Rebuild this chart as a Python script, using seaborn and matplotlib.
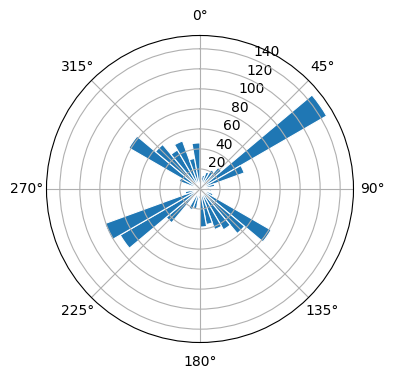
import numpy as np
import matplotlib
matplotlib.use("Agg")
import matplotlib.pyplot as plt
import seaborn as sns

# Wind-rose style data: bin centres (degrees, clockwise from north) and counts
direction_deg = [5, 15, 25, 35, 45, 55, 65, 75, 85,
                 95, 105, 115, 125, 135, 145, 155, 165, 175,
                 185, 195, 205, 215, 225, 235, 245, 255, 265,
                 275, 285, 295, 305, 315, 325, 335, 345, 355]
counts = [12, 14, 18, 22, 28, 146, 47, 15, 10,
          12, 8, 14, 82, 58, 47, 43, 36, 38,
          10, 20, 22, 6, 44, 92, 101, 15, 10,
          6, 8, 22, 82, 58, 45, 51, 31, 46]
angle_ticks = [0, 45, 90, 135, 180, 225, 270, 315]

theta = np.deg2rad(direction_deg)

fig = plt.figure(figsize=(3.96, 3.80), dpi=100)
ax = fig.add_axes([0.1174, 0.0987, 307 / 396, 307 / 380], projection="polar")
ax.set_theta_zero_location("N")
ax.set_theta_direction(-1)

sns.histplot(x=theta, weights=counts, bins=36, binrange=(0, 2 * np.pi),
             color="#1f77b4", alpha=1, edgecolor="white", linewidth=0.8, ax=ax)

ax.set_xlabel("")
ax.set_ylabel("")
ax.set_xticks(np.deg2rad(angle_ticks))
ax.set_xticklabels([f"{a}°" for a in angle_ticks])
ax.set_yticks([20, 40, 60, 80, 100, 120, 140])
ax.grid(True, color="#b0b0b0", linewidth=0.8, zorder=1.5)
ax.set_axisbelow("line")

fig.savefig("out.png", dpi=100)
